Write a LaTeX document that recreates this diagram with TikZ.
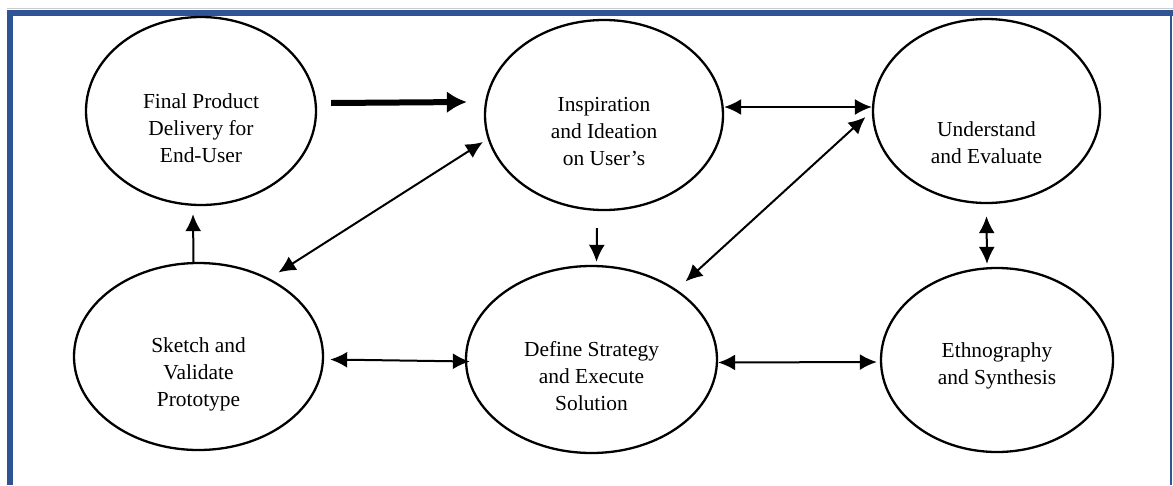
\documentclass[tikz,border=0pt]{standalone}
\usepackage{fontspec}
\setmainfont{Liberation Serif}
\usetikzlibrary{arrows.meta,shapes.geometric}
\definecolor{frameblue}{RGB}{47,84,150}
\begin{document}
\begin{tikzpicture}[x=1pt, y=-1pt]
		\tikzset{
			ell/.style={draw, ellipse, line width=2.3pt, inner sep=0pt},
			txt/.style={align=center, font=\fontsize{21.4}{27}\selectfont},
			link/.style={line width=2pt, {Latex[length=17pt,width=16pt]}-{Latex[length=17pt,width=16pt]}},
			one/.style={line width=2pt, -{Latex[length=17pt,width=16pt]}}
		}
		\useasboundingbox (0,0) rectangle (1173,485);
		% page frame
		\draw [black!20, line width=1pt] (7,8.5) -- (1173,8.5);
		\draw [frameblue, line width=6pt] (10,485) -- (10,13) -- (1173,13);
		\draw [frameblue, line width=1.5pt] (1171,16) -- (1171,485);
		% the six stages
		\node[ell, minimum width=230pt, minimum height=188pt] (final) at (201,111) {};
		\node[ell, minimum width=238pt, minimum height=190pt] (insp) at (604,115) {};
		\node[ell, minimum width=227pt, minimum height=184pt] (und) at (986.5,111) {};
		\node[ell, minimum width=249pt, minimum height=187pt] (sketch) at (198.5,356.5) {};
		\node[ell, minimum width=251pt, minimum height=187pt] (define) at (591.5,359.5) {};
		\node[ell, minimum width=232pt, minimum height=184pt] (ethno) at (997,360) {};
		\node[txt] (finalT) at ([yshift=-17pt]final.center) {Final Product\\Delivery for\\End-User};
		\node[txt] (inspT) at ([yshift=-17pt]insp.center) {Inspiration\\and Ideation\\on User’s};
		\node[txt] (undT) at ([yshift=-32pt]und.center) {Understand\\and Evaluate};
		\node[txt] (sketchT) at ([yshift=-18pt]sketch.center) {Sketch and\\Validate\\Prototype};
		\node[txt] (defineT) at ([yshift=-17pt]define.center) {Define Strategy\\and Execute\\Solution};
		\node[txt] (ethnoT) at ([yshift=-6pt]ethno.center) {Ethnography\\and Synthesis};
		% connectors
		\draw [line width=6pt, -{Latex[length=20pt,width=22pt]}] ([xshift=14pt,yshift=8pt]final.east) -- ([xshift=-17pt,yshift=13pt]insp.west);
		\draw [link] ([yshift=8pt]insp.east) -- ([yshift=4pt]und.west);
		\draw [link] ([xshift=80pt,yshift=84pt]sketch.center) -- ([xshift=-121pt,yshift=-27pt]insp.center);
		\draw [one] ([xshift=-5pt]sketch.north) -- ([xshift=-8pt,yshift=-8pt]final.south);
		\draw [one] ([xshift=-7pt,yshift=-17pt]insp.south) -- ([xshift=5pt,yshift=3pt]define.north);
		\draw [link] ([xshift=94pt,yshift=78pt]define.center) -- ([xshift=-121pt,yshift=-6pt]und.center);
		\draw [link] ([xshift=6pt,yshift=-3pt]sketch.east) -- ([xshift=5pt,yshift=-2pt]define.west);
		\draw [link] ([yshift=-3pt]define.east) -- ([xshift=-3pt,yshift=-2pt]ethno.west);
		\draw [link] ([yshift=-12pt]und.south) -- ([xshift=-10pt,yshift=3pt]ethno.north);
	\end{tikzpicture}
\end{document}
